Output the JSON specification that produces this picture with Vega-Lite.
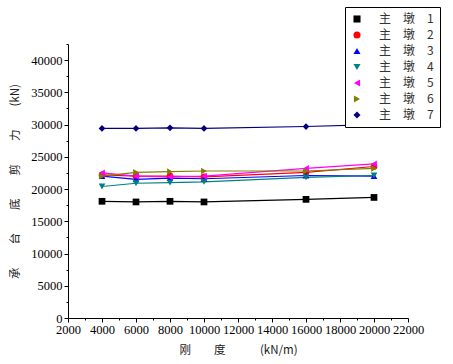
{
  "$schema": "https://vega.github.io/schema/vega-lite/v6.json",
  "width": 340,
  "height": 274,
  "autosize": {"type": "none"},
  "padding": {"left": 68, "top": 44, "right": 45, "bottom": 46},
  "background": "white",
  "config": {
    "view": {"stroke": null},
    "axis": {"labelFont": "Liberation Serif, serif", "labelFontSize": 12.5, "labelColor": "black", "domainColor": "black", "tickColor": "black", "grid": false, "titleFont": "Noto Sans CJK SC", "titleFontWeight": "normal", "titleFontSize": 11.5, "titleColor": "#222", "labelOverlap": false, "labelFlush": false},
    "legend": {"strokeColor": "black", "padding": 6, "labelFont": "Noto Sans CJK SC", "labelFontSize": 12, "labelColor": "#333", "symbolSize": 50, "rowPadding": 4, "labelOffset": 16, "symbolStrokeWidth": 1, "fillColor": "white"}
  },
  "data": {
    "values": [
      {"k": 4000, "v": 18100, "s": "主　墩　1"},
      {"k": 6000, "v": 18000, "s": "主　墩　1"},
      {"k": 8000, "v": 18100, "s": "主　墩　1"},
      {"k": 10000, "v": 18000, "s": "主　墩　1"},
      {"k": 16000, "v": 18400, "s": "主　墩　1"},
      {"k": 20000, "v": 18700, "s": "主　墩　1"},
      {"k": 4000, "v": 22200, "s": "主　墩　2"},
      {"k": 6000, "v": 22000, "s": "主　墩　2"},
      {"k": 8000, "v": 22000, "s": "主　墩　2"},
      {"k": 10000, "v": 21900, "s": "主　墩　2"},
      {"k": 16000, "v": 22600, "s": "主　墩　2"},
      {"k": 20000, "v": 23500, "s": "主　墩　2"},
      {"k": 4000, "v": 22000, "s": "主　墩　3"},
      {"k": 6000, "v": 21500, "s": "主　墩　3"},
      {"k": 8000, "v": 21700, "s": "主　墩　3"},
      {"k": 10000, "v": 21600, "s": "主　墩　3"},
      {"k": 16000, "v": 22100, "s": "主　墩　3"},
      {"k": 20000, "v": 22000, "s": "主　墩　3"},
      {"k": 4000, "v": 20400, "s": "主　墩　4"},
      {"k": 6000, "v": 20900, "s": "主　墩　4"},
      {"k": 8000, "v": 21000, "s": "主　墩　4"},
      {"k": 10000, "v": 21100, "s": "主　墩　4"},
      {"k": 16000, "v": 21800, "s": "主　墩　4"},
      {"k": 20000, "v": 22100, "s": "主　墩　4"},
      {"k": 4000, "v": 22500, "s": "主　墩　5"},
      {"k": 6000, "v": 22000, "s": "主　墩　5"},
      {"k": 8000, "v": 21900, "s": "主　墩　5"},
      {"k": 10000, "v": 22000, "s": "主　墩　5"},
      {"k": 16000, "v": 23200, "s": "主　墩　5"},
      {"k": 20000, "v": 23900, "s": "主　墩　5"},
      {"k": 4000, "v": 22000, "s": "主　墩　6"},
      {"k": 6000, "v": 22600, "s": "主　墩　6"},
      {"k": 8000, "v": 22700, "s": "主　墩　6"},
      {"k": 10000, "v": 22800, "s": "主　墩　6"},
      {"k": 16000, "v": 22800, "s": "主　墩　6"},
      {"k": 20000, "v": 23200, "s": "主　墩　6"},
      {"k": 4000, "v": 29400, "s": "主　墩　7"},
      {"k": 6000, "v": 29400, "s": "主　墩　7"},
      {"k": 8000, "v": 29500, "s": "主　墩　7"},
      {"k": 10000, "v": 29400, "s": "主　墩　7"},
      {"k": 16000, "v": 29700, "s": "主　墩　7"},
      {"k": 20000, "v": 30000, "s": "主　墩　7"}
    ]
  },
  "layer": [
    {
      "encoding": {
        "x": {"field": "k", "type": "quantitative", "scale": {"domain": [2000, 22000], "nice": false}, "axis": {"orient": "bottom", "values": [2000,4000,6000,8000,10000,12000,14000,16000,18000,20000,22000], "format": "d", "title": "刚　　度　　　(kN/m)", "titlePadding": 9, "tickSize": 4, "labelPadding": 1}},
        "y": {"field": "v", "type": "quantitative", "scale": {"domain": [0, 42500], "nice": false}, "axis": {"orient": "left", "values": [0,5000,10000,15000,20000,25000,30000,35000,40000], "format": "d", "title": "承　　台　　底　　剪　　力　　(kN)", "titlePadding": 10, "tickSize": 4, "labelPadding": 2}}
      },
      "layer": [
        {"mark": {"type": "line", "strokeWidth": 1.2},
         "encoding": {"stroke": {"field": "s", "type": "nominal", "scale": {"range": ["#000000", "#FF0000", "#0000FF", "#008080", "#FF00FF", "#808000", "#000080"]}, "legend": null}}},
        {"mark": {"type": "point", "filled": true, "size": 45, "opacity": 1},
         "encoding": {
          "color": {"field": "s", "type": "nominal", "scale": {"range": ["#000000", "#FF0000", "#0000FF", "#008080", "#FF00FF", "#808000", "#000080"]}, "title": null,
            "legend": {"orient": "none", "legendX": 277, "legendY": -37}},
          "shape": {"field": "s", "type": "nominal", "scale": {"range": ["square", "circle", "triangle-up", "triangle-down", "triangle-left", "triangle-right", "diamond"]}, "title": null,
            "legend": {"orient": "none", "legendX": 277, "legendY": -37}}}}
      ]
    },
    {
      "mark": {"type": "point", "opacity": 0},
      "encoding": {
        "x": {"field": "k", "type": "quantitative", "scale": {"domain": [2000, 22000], "nice": false}, "axis": {"orient": "bottom", "values": [3000,5000,7000,9000,11000,13000,15000,17000,19000,21000], "labels": false, "domain": false, "title": null, "tickSize": 2}},
        "y": {"field": "v", "type": "quantitative", "scale": {"domain": [0, 42500], "nice": false}, "axis": {"orient": "left", "values": [2500,7500,12500,17500,22500,27500,32500,37500,42500], "labels": false, "domain": false, "title": null, "tickSize": 2}}
      }
    }
  ],
  "resolve": {"scale": {"x": "independent", "y": "independent"}, "axis": {"x": "independent", "y": "independent"}}
}
